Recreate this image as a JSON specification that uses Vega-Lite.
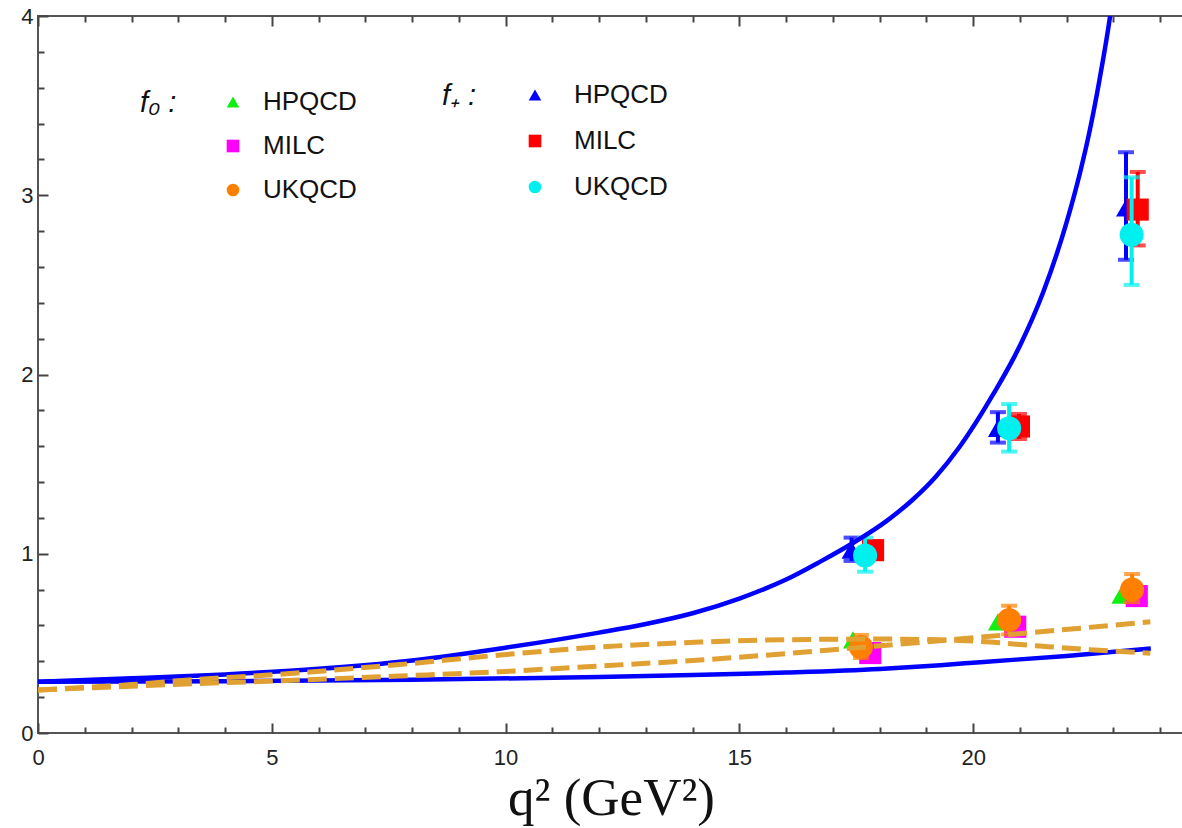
{
"$schema": "https://vega.github.io/schema/vega-lite/v6.json",
"autosize": {"type": "none"},
"padding": {"left": 38, "top": 16, "right": 0, "bottom": 95},
"width": 1146,
"height": 717,
"background": "white",
"config": {"view": {"stroke": "#555", "strokeWidth": 2}},
"datasets": {
"pts": [
{"ff":"f0","src":"HPQCD","q":17.43,"v":0.52},
{"ff":"f0","src":"HPQCD","q":20.53,"v":0.62},
{"ff":"f0","src":"HPQCD","q":23.17,"v":0.77},
{"ff":"f0","src":"MILC","q":17.80,"v":0.446},
{"ff":"f0","src":"MILC","q":20.90,"v":0.593},
{"ff":"f0","src":"MILC","q":23.50,"v":0.764},
{"ff":"f0","src":"UKQCD","q":17.60,"v":0.48,"lo":0.418,"hi":0.547},
{"ff":"f0","src":"UKQCD","q":20.77,"v":0.63,"lo":0.55,"hi":0.71},
{"ff":"f0","src":"UKQCD","q":23.40,"v":0.80,"lo":0.73,"hi":0.887},
{"ff":"f+","src":"HPQCD","q":17.40,"v":1.02,"lo":0.96,"hi":1.09},
{"ff":"f+","src":"HPQCD","q":20.53,"v":1.70,"lo":1.62,"hi":1.79},
{"ff":"f+","src":"HPQCD","q":23.27,"v":2.93,"lo":2.64,"hi":3.24},
{"ff":"f+","src":"MILC","q":17.86,"v":1.02,"lo":0.98,"hi":1.06},
{"ff":"f+","src":"MILC","q":20.98,"v":1.71,"lo":1.64,"hi":1.78},
{"ff":"f+","src":"MILC","q":23.52,"v":2.92,"lo":2.72,"hi":3.13},
{"ff":"f+","src":"UKQCD","q":17.69,"v":0.99,"lo":0.90,"hi":1.09},
{"ff":"f+","src":"UKQCD","q":20.77,"v":1.70,"lo":1.57,"hi":1.835},
{"ff":"f+","src":"UKQCD","q":23.39,"v":2.78,"lo":2.50,"hi":3.10}
],
"curves": [
{"c":"fplus","q":0,"v":0.286},
{"c":"fplus","q":2,"v":0.305},
{"c":"fplus","q":4,"v":0.327},
{"c":"fplus","q":6,"v":0.358},
{"c":"fplus","q":8,"v":0.405},
{"c":"fplus","q":10,"v":0.476},
{"c":"fplus","q":12,"v":0.56},
{"c":"fplus","q":13,"v":0.608},
{"c":"fplus","q":14,"v":0.668},
{"c":"fplus","q":15,"v":0.75},
{"c":"fplus","q":16,"v":0.856},
{"c":"fplus","q":16.73,"v":0.956},
{"c":"fplus","q":17.43,"v":1.06},
{"c":"fplus","q":18.16,"v":1.185},
{"c":"fplus","q":18.7,"v":1.30},
{"c":"fplus","q":19.2,"v":1.43},
{"c":"fplus","q":19.72,"v":1.60},
{"c":"fplus","q":20.43,"v":1.89},
{"c":"fplus","q":21.0,"v":2.16},
{"c":"fplus","q":21.5,"v":2.46},
{"c":"fplus","q":22.0,"v":2.85},
{"c":"fplus","q":22.29,"v":3.13},
{"c":"fplus","q":22.46,"v":3.32},
{"c":"fplus","q":22.7,"v":3.64},
{"c":"fplus","q":22.93,"v":4.0},
{"c":"fplus","q":23.1,"v":4.34},
{"c":"fzero","q":0,"v":0.286},
{"c":"fzero","q":4,"v":0.289},
{"c":"fzero","q":8,"v":0.297},
{"c":"fzero","q":12,"v":0.312},
{"c":"fzero","q":14,"v":0.323},
{"c":"fzero","q":16,"v":0.337},
{"c":"fzero","q":18,"v":0.357},
{"c":"fzero","q":19.3,"v":0.378},
{"c":"fzero","q":20.15,"v":0.395},
{"c":"fzero","q":22,"v":0.43},
{"c":"fzero","q":23.8,"v":0.472},
{"c":"dA","q":0,"v":0.24},
{"c":"dA","q":3.47,"v":0.276},
{"c":"dA","q":5,"v":0.29},
{"c":"dA","q":7.74,"v":0.318},
{"c":"dA","q":9.88,"v":0.342},
{"c":"dA","q":12.02,"v":0.374},
{"c":"dA","q":14.16,"v":0.407},
{"c":"dA","q":16.94,"v":0.463},
{"c":"dA","q":19.5,"v":0.52},
{"c":"dA","q":20.9,"v":0.552},
{"c":"dA","q":22.3,"v":0.585},
{"c":"dA","q":23.79,"v":0.621},
{"c":"dB","q":0,"v":0.24},
{"c":"dB","q":2,"v":0.27},
{"c":"dB","q":3.47,"v":0.30},
{"c":"dB","q":5,"v":0.325},
{"c":"dB","q":7.74,"v":0.382},
{"c":"dB","q":9.88,"v":0.435},
{"c":"dB","q":12.02,"v":0.48},
{"c":"dB","q":14.16,"v":0.507},
{"c":"dB","q":15.5,"v":0.518},
{"c":"dB","q":16.94,"v":0.523},
{"c":"dB","q":18,"v":0.524},
{"c":"dB","q":19.29,"v":0.52},
{"c":"dB","q":20,"v":0.513},
{"c":"dB","q":21.43,"v":0.485},
{"c":"dB","q":22.5,"v":0.465},
{"c":"dB","q":23.79,"v":0.445}
]
},
"layer": [
{
"data": {"name": "pts"},
"transform": [{"filter": "datum.ff === 'f+' && datum.src === 'HPQCD'"}],
"mark": {"type": "errorbar", "color": "#0000ff", "thickness": 4, "ticks": {"size": 16, "thickness": 4, "color": "#0000ff"}},
"encoding": {
"x": {"field": "q", "type": "quantitative", "scale": {"domain": [0, 24.51], "nice": false, "zero": false}, "axis": null},
"y": {"field": "lo", "type": "quantitative", "scale": {"domain": [0, 4], "nice": false, "zero": false}, "title": null,
 "axis": {"values": [0,0.2,0.4,0.6,0.8,1,1.2,1.4,1.6,1.8,2,2.2,2.4,2.6,2.8,3,3.2,3.4,3.6,3.8,4], "labelExpr": "abs(datum.value - round(datum.value)) < 0.001 ? format(datum.value, 'd') : ''", "tickSize": {"condition": {"test": "abs(datum.value - round(datum.value)) < 0.001", "value": -10}, "value": -6}, "domain": false, "grid": false, "tickColor": "#444", "tickWidth": 2, "labelFont": "Liberation Sans", "labelFontSize": 22, "labelColor": "#222", "labelPadding": 15, "labelFlush": false, "labelOverlap": false, "title": null}},
"y2": {"field": "hi"}
}
},
{
"data": {"name": "pts"},
"transform": [{"filter": "datum.ff === 'f+' && datum.src === 'MILC'"}],
"mark": {"type": "errorbar", "color": "#ff0000", "thickness": 4, "ticks": {"size": 16, "thickness": 4, "color": "#ff0000"}},
"encoding": {
"x": {"field": "q", "type": "quantitative", "scale": {"domain": [0, 24.51], "nice": false, "zero": false}, "axis": null},
"y": {"field": "lo", "type": "quantitative", "scale": {"domain": [0, 4], "nice": false, "zero": false}, "title": null,
 "axis": {"values": [0,0.2,0.4,0.6,0.8,1,1.2,1.4,1.6,1.8,2,2.2,2.4,2.6,2.8,3,3.2,3.4,3.6,3.8,4], "labelExpr": "abs(datum.value - round(datum.value)) < 0.001 ? format(datum.value, 'd') : ''", "tickSize": {"condition": {"test": "abs(datum.value - round(datum.value)) < 0.001", "value": -10}, "value": -6}, "domain": false, "grid": false, "tickColor": "#444", "tickWidth": 2, "labelFont": "Liberation Sans", "labelFontSize": 22, "labelColor": "#222", "labelPadding": 15, "labelFlush": false, "labelOverlap": false, "title": null}},
"y2": {"field": "hi"}
}
},
{
"data": {"name": "pts"},
"transform": [{"filter": "datum.ff === 'f0'"}],
"mark": {"type": "point", "filled": true, "opacity": 1, "strokeWidth": 0},
"encoding": {
"x": {"field": "q", "type": "quantitative", "scale": {"domain": [0, 24.51], "nice": false, "zero": false}, "axis": null},
"y": {"field": "v", "type": "quantitative", "scale": {"domain": [0, 4], "nice": false, "zero": false}, "title": null,
 "axis": {"values": [0,0.2,0.4,0.6,0.8,1,1.2,1.4,1.6,1.8,2,2.2,2.4,2.6,2.8,3,3.2,3.4,3.6,3.8,4], "labelExpr": "abs(datum.value - round(datum.value)) < 0.001 ? format(datum.value, 'd') : ''", "tickSize": {"condition": {"test": "abs(datum.value - round(datum.value)) < 0.001", "value": -10}, "value": -6}, "domain": false, "grid": false, "tickColor": "#444", "tickWidth": 2, "labelFont": "Liberation Sans", "labelFontSize": 22, "labelColor": "#222", "labelPadding": 15, "labelFlush": false, "labelOverlap": false, "title": null}},
"color": {"field": "src", "type": "nominal", "scale": {"domain": ["HPQCD", "MILC", "UKQCD"], "range": ["#11ee11", "#ff00ff", "#ff8000"]},
 "legend": {"title": "f₀ :", "orient": "none", "legendX": 102, "legendY": 73, "titleOrient": "left", "titleAnchor": "start", "titleBaseline": "top", "titleFont": "Liberation Sans", "titleFontSize": 29, "titleFontStyle": "italic", "titleFontWeight": "normal", "titleColor": "#111", "titlePadding": 43, "labelFont": "Liberation Sans", "labelFontSize": 26, "labelColor": "#111", "symbolSize": 160, "symbolStrokeWidth": 0, "rowPadding": 18, "labelOffset": 17, "padding": 0,
  "encode": {"symbols": {"update": {"fill": {"signal": "datum.value === 'MILC' ? '#9a1cf0' : datum.value === 'UKQCD' ? '#ff5a14' : '#11ee11'"}}}}}},
"shape": {"field": "src", "type": "nominal", "scale": {"domain": ["HPQCD", "MILC", "UKQCD"], "range": ["triangle-up", "square", "circle"]},
 "legend": {"title": "f₀ :", "orient": "none", "legendX": 102, "legendY": 73, "titleOrient": "left", "titleAnchor": "start", "titleBaseline": "top", "titleFont": "Liberation Sans", "titleFontSize": 29, "titleFontStyle": "italic", "titleFontWeight": "normal", "titleColor": "#111", "titlePadding": 43, "labelFont": "Liberation Sans", "labelFontSize": 26, "labelColor": "#111", "symbolSize": 160, "symbolStrokeWidth": 0, "rowPadding": 18, "labelOffset": 17, "padding": 0}},
"size": {"field": "src", "type": "ordinal", "scale": {"domain": ["HPQCD", "MILC", "UKQCD"], "range": [400, 580, 300]}, "legend": null}
}
},
{
"data": {"name": "pts"},
"transform": [{"filter": "datum.ff === 'f+'"}],
"mark": {"type": "point", "filled": true, "opacity": 1, "strokeWidth": 0},
"encoding": {
"x": {"field": "q", "type": "quantitative", "scale": {"domain": [0, 24.51], "nice": false, "zero": false}, "axis": null},
"y": {"field": "v", "type": "quantitative", "scale": {"domain": [0, 4], "nice": false, "zero": false}, "title": null,
 "axis": {"values": [0,0.2,0.4,0.6,0.8,1,1.2,1.4,1.6,1.8,2,2.2,2.4,2.6,2.8,3,3.2,3.4,3.6,3.8,4], "labelExpr": "abs(datum.value - round(datum.value)) < 0.001 ? format(datum.value, 'd') : ''", "tickSize": {"condition": {"test": "abs(datum.value - round(datum.value)) < 0.001", "value": -10}, "value": -6}, "domain": false, "grid": false, "tickColor": "#444", "tickWidth": 2, "labelFont": "Liberation Sans", "labelFontSize": 22, "labelColor": "#222", "labelPadding": 15, "labelFlush": false, "labelOverlap": false, "title": null}},
"color": {"field": "src", "type": "nominal", "scale": {"domain": ["HPQCD", "MILC", "UKQCD"], "range": ["#0000ff", "#ff0000", "#00f0f0"]},
 "legend": {"title": "f₊ :", "orient": "none", "legendX": 404, "legendY": 66, "titleOrient": "left", "titleAnchor": "start", "titleBaseline": "top", "titleFont": "Liberation Sans", "titleFontSize": 29, "titleFontStyle": "italic", "titleFontWeight": "normal", "titleColor": "#111", "titlePadding": 45, "labelFont": "Liberation Sans", "labelFontSize": 26, "labelColor": "#111", "symbolSize": 160, "symbolStrokeWidth": 0, "rowPadding": 20, "labelOffset": 26, "padding": 0}},
"shape": {"field": "src", "type": "nominal", "scale": {"domain": ["HPQCD", "MILC", "UKQCD"], "range": ["triangle-up", "square", "circle"]},
 "legend": {"title": "f₊ :", "orient": "none", "legendX": 404, "legendY": 66, "titleOrient": "left", "titleAnchor": "start", "titleBaseline": "top", "titleFont": "Liberation Sans", "titleFontSize": 29, "titleFontStyle": "italic", "titleFontWeight": "normal", "titleColor": "#111", "titlePadding": 45, "labelFont": "Liberation Sans", "labelFontSize": 26, "labelColor": "#111", "symbolSize": 160, "symbolStrokeWidth": 0, "rowPadding": 20, "labelOffset": 26, "padding": 0}},
"size": {"field": "src", "type": "ordinal", "scale": {"domain": ["HPQCD", "MILC", "UKQCD"], "range": [400, 520, 300]}, "legend": null}
}
},
{
"data": {"name": "pts"},
"transform": [{"filter": "datum.ff === 'f0' && datum.src === 'UKQCD'"}],
"mark": {"type": "errorbar", "color": "#ff8000", "thickness": 4, "ticks": {"size": 16, "thickness": 4, "color": "#ff8000"}},
"encoding": {
"x": {"field": "q", "type": "quantitative", "scale": {"domain": [0, 24.51], "nice": false, "zero": false}, "axis": null},
"y": {"field": "lo", "type": "quantitative", "scale": {"domain": [0, 4], "nice": false, "zero": false}, "title": null,
 "axis": {"values": [0,0.2,0.4,0.6,0.8,1,1.2,1.4,1.6,1.8,2,2.2,2.4,2.6,2.8,3,3.2,3.4,3.6,3.8,4], "labelExpr": "abs(datum.value - round(datum.value)) < 0.001 ? format(datum.value, 'd') : ''", "tickSize": {"condition": {"test": "abs(datum.value - round(datum.value)) < 0.001", "value": -10}, "value": -6}, "domain": false, "grid": false, "tickColor": "#444", "tickWidth": 2, "labelFont": "Liberation Sans", "labelFontSize": 22, "labelColor": "#222", "labelPadding": 15, "labelFlush": false, "labelOverlap": false, "title": null}},
"y2": {"field": "hi"}
}
},
{
"data": {"name": "pts"},
"transform": [{"filter": "datum.ff === 'f+' && datum.src === 'UKQCD'"}],
"mark": {"type": "errorbar", "color": "#00f0f0", "thickness": 4, "ticks": {"size": 16, "thickness": 4, "color": "#00f0f0"}},
"encoding": {
"x": {"field": "q", "type": "quantitative", "scale": {"domain": [0, 24.51], "nice": false, "zero": false}, "axis": null},
"y": {"field": "lo", "type": "quantitative", "scale": {"domain": [0, 4], "nice": false, "zero": false}, "title": null,
 "axis": {"values": [0,0.2,0.4,0.6,0.8,1,1.2,1.4,1.6,1.8,2,2.2,2.4,2.6,2.8,3,3.2,3.4,3.6,3.8,4], "labelExpr": "abs(datum.value - round(datum.value)) < 0.001 ? format(datum.value, 'd') : ''", "tickSize": {"condition": {"test": "abs(datum.value - round(datum.value)) < 0.001", "value": -10}, "value": -6}, "domain": false, "grid": false, "tickColor": "#444", "tickWidth": 2, "labelFont": "Liberation Sans", "labelFontSize": 22, "labelColor": "#222", "labelPadding": 15, "labelFlush": false, "labelOverlap": false, "title": null}},
"y2": {"field": "hi"}
}
},
{
"data": {"name": "curves"},
"transform": [{"filter": "datum.c === 'fplus' || datum.c === 'fzero'"}],
"mark": {"type": "line", "color": "#0000ff", "strokeWidth": 4.5, "clip": true, "interpolate": "monotone"},
"encoding": {
"x": {"field": "q", "type": "quantitative", "scale": {"domain": [0, 24.51], "nice": false, "zero": false},
 "axis": {"orient": "bottom", "values": [0,1,2,3,4,5,6,7,8,9,10,11,12,13,14,15,16,17,18,19,20,21,22,23,24], "labelExpr": "datum.value % 5 === 0 ? datum.label : ''", "tickSize": {"condition": {"test": "datum.value % 5 === 0", "value": -10}, "value": -6}, "domain": false, "grid": false, "tickColor": "#444", "tickWidth": 2, "labelFont": "Liberation Sans", "labelFontSize": 22, "labelColor": "#222", "labelPadding": 24, "labelFlush": false, "labelOverlap": false, "title": "q²   (GeV²)", "titleFont": "Liberation Serif", "titleFontSize": 53, "titleFontWeight": "normal", "titleColor": "#111", "titlePadding": 0}},
"y": {"field": "v", "type": "quantitative", "scale": {"domain": [0, 4], "nice": false, "zero": false}, "title": null,
 "axis": {"values": [0,0.2,0.4,0.6,0.8,1,1.2,1.4,1.6,1.8,2,2.2,2.4,2.6,2.8,3,3.2,3.4,3.6,3.8,4], "labelExpr": "abs(datum.value - round(datum.value)) < 0.001 ? format(datum.value, 'd') : ''", "tickSize": {"condition": {"test": "abs(datum.value - round(datum.value)) < 0.001", "value": -10}, "value": -6}, "domain": false, "grid": false, "tickColor": "#444", "tickWidth": 2, "labelFont": "Liberation Sans", "labelFontSize": 22, "labelColor": "#222", "labelPadding": 15, "labelFlush": false, "labelOverlap": false, "title": null}},
"detail": {"field": "c", "type": "nominal"}
}
},
{
"data": {"name": "curves"},
"transform": [{"filter": "datum.c === 'dA' || datum.c === 'dB'"}],
"mark": {"type": "line", "color": "#e0a032", "strokeWidth": 5, "strokeDash": [19, 8], "clip": true, "interpolate": "monotone"},
"encoding": {
"x": {"field": "q", "type": "quantitative", "scale": {"domain": [0, 24.51], "nice": false, "zero": false},
 "axis": {"orient": "top", "values": [0,1,2,3,4,5,6,7,8,9,10,11,12,13,14,15,16,17,18,19,20,21,22,23,24], "labels": false, "tickSize": {"condition": {"test": "datum.value % 5 === 0", "value": -10}, "value": -6}, "domain": false, "grid": false, "tickColor": "#444", "tickWidth": 2, "title": null}},
"y": {"field": "v", "type": "quantitative", "scale": {"domain": [0, 4], "nice": false, "zero": false}, "title": null,
 "axis": {"values": [0,0.2,0.4,0.6,0.8,1,1.2,1.4,1.6,1.8,2,2.2,2.4,2.6,2.8,3,3.2,3.4,3.6,3.8,4], "labelExpr": "abs(datum.value - round(datum.value)) < 0.001 ? format(datum.value, 'd') : ''", "tickSize": {"condition": {"test": "abs(datum.value - round(datum.value)) < 0.001", "value": -10}, "value": -6}, "domain": false, "grid": false, "tickColor": "#444", "tickWidth": 2, "labelFont": "Liberation Sans", "labelFontSize": 22, "labelColor": "#222", "labelPadding": 15, "labelFlush": false, "labelOverlap": false, "title": null}},
"detail": {"field": "c", "type": "nominal"}
}
}
],
"resolve": {"scale": {"color": "independent", "shape": "independent"}, "axis": {"x": "independent"}}
}
